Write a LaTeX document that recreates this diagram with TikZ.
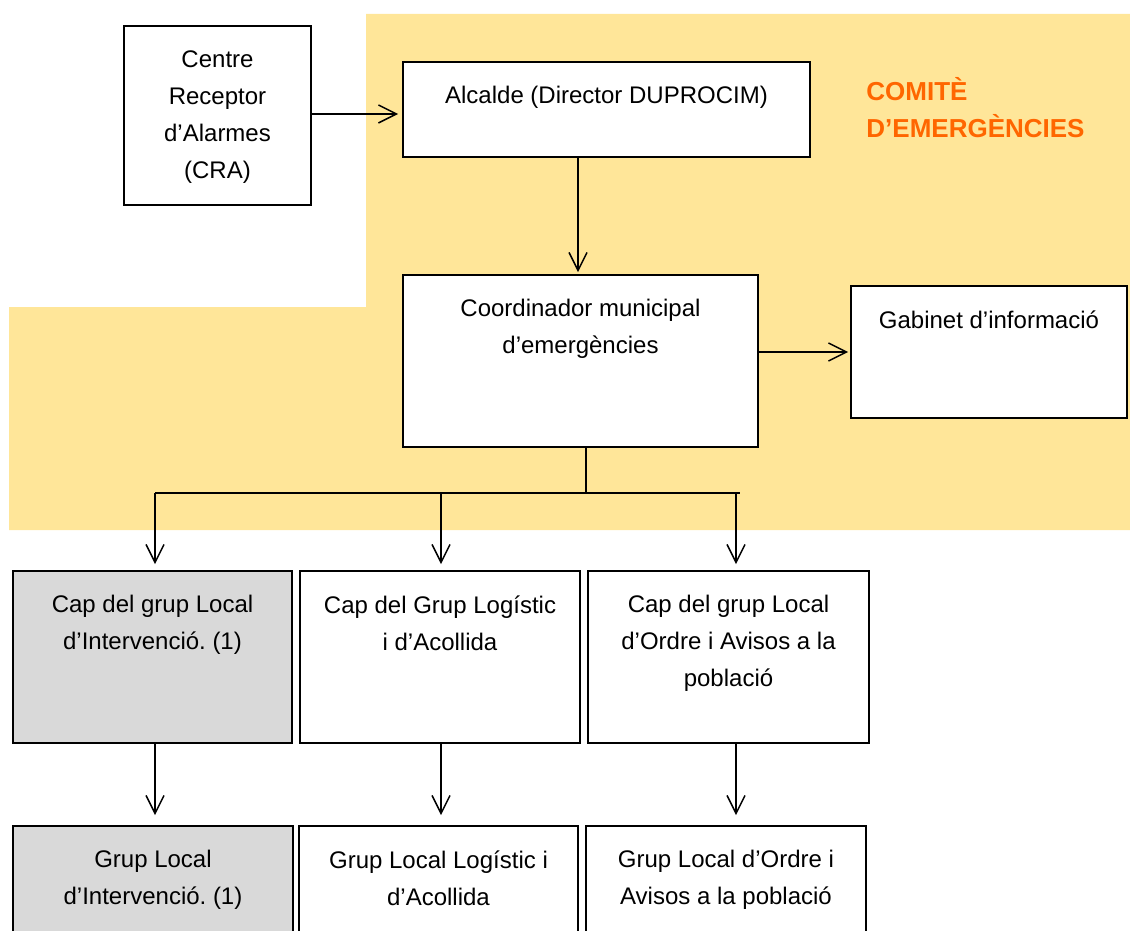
\documentclass[tikz,border=0pt]{standalone}
\usepackage{fontspec}
\setmainfont{Liberation Sans}
\usetikzlibrary{arrows.meta, positioning}
\definecolor{comite}{RGB}{255,230,153}
\definecolor{taronja}{RGB}{255,102,0}
\definecolor{gris}{RGB}{217,217,217}
\frenchspacing

\begin{document}
\begin{tikzpicture}[x=0.5pt, y=-0.5pt,
		caixa/.style={draw, line width=0.9pt, fill=white},
		lletra/.style={align=center, inner sep=0pt, font=\fontsize{12pt}{18.5pt}\selectfont},
		fletxa/.style={-{Straight Barb[length=9pt, width=9pt]}, line width=0.75pt}]
		\useasboundingbox (0,0) rectangle (1130,931);
		% zona del comite
		\fill[comite] (366,14) -- (1130,14) -- (1130,530) -- (9,530) -- (9,307) -- (366,307) -- cycle;
		\node[font=\fontsize{13pt}{18.5pt}\selectfont\bfseries, text=taronja, align=left,
		anchor=north west, inner sep=0pt] (titol) at (866,77) {COMITÈ\\D’EMERGÈNCIES};
		
		\node[caixa, minimum width=93.5pt, minimum height=89.5pt] (cra) at (217.5,115.5) {};
		\node[lletra, below=12.5pt of cra.north] (cra-t) {Centre\\Receptor\\d’Alarmes\\(CRA)};
		
		\node[caixa, minimum width=203.5pt, minimum height=47.5pt] (alcalde) at (606.5,109.5) {};
		\node[lletra, below=12.5pt of alcalde.north] (alcalde-t) {Alcalde (Director DUPROCIM)};
		
		\node[caixa, minimum width=177.5pt, minimum height=86pt] (coord) at (580.5,361) {};
		\node[lletra, below=12.5pt of coord.north] (coord-t) {Coordinador municipal\\d’emergències};
		
		\node[caixa, minimum width=138pt, minimum height=66pt] (gabinet) at (989,352) {};
		\node[lletra, below=12.5pt of gabinet.north] (gabinet-t) {Gabinet d’informació};
		
		% caps de grup
		\node[caixa, fill=gris, minimum width=139.5pt, minimum height=86pt] (cap1) at (152.5,657) {};
		\node[lletra, below=12.5pt of cap1.north] (cap1-t) {Cap del grup Local\\d’Intervenció. (1)};
		\node[caixa, minimum width=140pt, minimum height=86pt] (cap2) at (440,657) {};
		\node[lletra, below=12.5pt of cap2.north] (cap2-t) {Cap del Grup Logístic\\i d’Acollida};
		\node[caixa, minimum width=140.5pt, minimum height=86pt] (cap3) at (728.5,657) {};
		\node[lletra, below=12.5pt of cap3.north] (cap3-t) {Cap del grup Local\\d’Ordre i Avisos a la\\població};
		
		% grups
		\node[caixa, fill=gris, minimum width=140pt, minimum height=65pt] (grup1) at (153,891) {};
		\node[lletra, below=12.5pt of grup1.north] (grup1-t) {Grup Local\\d’Intervenció. (1)};
		\node[caixa, minimum width=139.5pt, minimum height=65pt] (grup2) at (438.5,891) {};
		\node[lletra, below=12.5pt of grup2.north] (grup2-t) {Grup Local Logístic i\\d’Acollida};
		\node[caixa, minimum width=140pt, minimum height=65pt] (grup3) at (726,891) {};
		\node[lletra, below=12.5pt of grup3.north] (grup3-t) {Grup Local d’Ordre i\\Avisos a la població};
		
		% fletxes
		\draw[fletxa, shorten >=2pt] (cra.east |- 0,114) -- (alcalde.west |- 0,114);
		\draw[fletxa, shorten >=1pt] ([xshift=-14.25pt]alcalde.south) -- ([xshift=-14.25pt]alcalde.south |- coord.north);
		\draw[fletxa, shorten >=1pt] (coord.east |- gabinet.west) -- (gabinet.west);
		
		\coordinate (split) at ([xshift=2.75pt, yshift=-22.5pt]coord.south);
		\draw[line width=0.75pt] ([xshift=2.75pt]coord.south) -- (split);
		\draw[line width=0.75pt] ([xshift=1.25pt]split -| cap1) -- ([xshift=5.75pt]split -| cap3);
		\foreach \i/\dx in {1/1.25pt, 2/0.5pt, 3/3.75pt}{
			\draw[fletxa, shorten >=3pt] ([xshift=\dx]split -| cap\i) -- ([xshift=\dx]cap\i.north);
			\draw[fletxa, shorten >=5pt] ([xshift=\dx]cap\i.south) -- ([xshift=\dx]cap\i.south |- grup\i.north);
		}
	\end{tikzpicture}
\end{document}
